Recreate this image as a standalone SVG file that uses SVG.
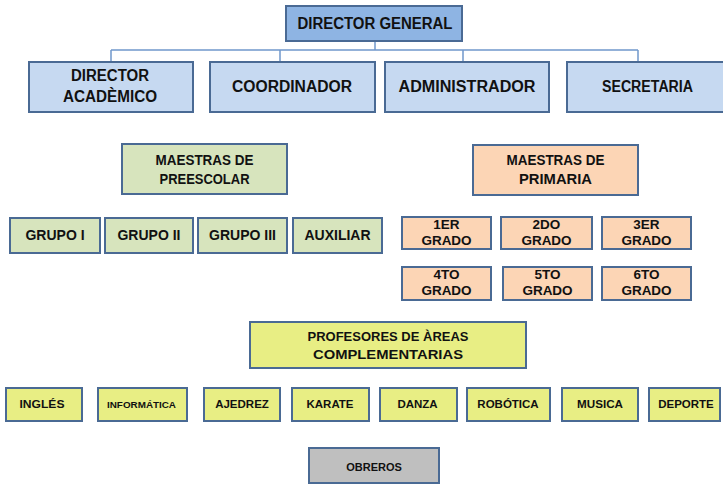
<svg xmlns="http://www.w3.org/2000/svg" width="723" height="485" viewBox="0 0 723 485">
<style>
.b{stroke:#4A6A94;stroke-width:2}
.dg{fill:#8EB4E3}
.lb{fill:#C6D9F1}
.gr{fill:#D7E4BD}
.pe{fill:#FCD5B5}
.ye{fill:#E8EE84}
.gy{fill:#BFBFBF}
text{font-family:"Liberation Sans",Arial,sans-serif;font-weight:bold;fill:#111;text-anchor:middle}
.t16{font-size:16px}
.t14{font-size:14px}
.t135{font-size:13.5px}
.t13{font-size:13px}
.t115{font-size:11.5px}
.t11{font-size:11px}
.conn{fill:none;stroke:#7098CC;stroke-width:1.5}
</style>
<rect width="723" height="485" fill="#FFFFFF"/>
<g id="connectors">
<path class="conn" d="M375 41V50M111 50H638M111 50V62M280 50V62M463 50V62M638 50V62"/>
</g>
<g id="director-general">
<rect class="b dg" x="286" y="6" width="176" height="35"/>
<text class="t16" x="375" y="28.5" textLength="155" lengthAdjust="spacingAndGlyphs">DIRECTOR GENERAL</text>
</g>
<g id="director-academico">
<rect class="b lb" x="29" y="62" width="164" height="50"/>
<text class="t16" x="110" y="81" textLength="78" lengthAdjust="spacingAndGlyphs">DIRECTOR</text>
<text class="t16" x="110" y="102" textLength="94" lengthAdjust="spacingAndGlyphs">ACADÈMICO</text>
</g>
<g id="coordinador">
<rect class="b lb" x="210" y="62" width="165" height="50"/>
<text class="t16" x="292" y="92" textLength="120" lengthAdjust="spacingAndGlyphs">COORDINADOR</text>
</g>
<g id="administrador">
<rect class="b lb" x="385" y="62" width="164" height="50"/>
<text class="t16" x="467" y="92" textLength="137" lengthAdjust="spacingAndGlyphs">ADMINISTRADOR</text>
</g>
<g id="secretaria">
<rect class="b lb" x="567" y="62" width="162" height="50"/>
<text class="t16" x="647.5" y="92" textLength="91" lengthAdjust="spacingAndGlyphs">SECRETARIA</text>
</g>
<g id="maestras-preescolar">
<rect class="b gr" x="122" y="144" width="165" height="50"/>
<text class="t14" x="204.5" y="165" textLength="98" lengthAdjust="spacingAndGlyphs">MAESTRAS DE</text>
<text class="t14" x="204.5" y="184" textLength="90" lengthAdjust="spacingAndGlyphs">PREESCOLAR</text>
</g>
<g id="grupo-1"><rect class="b gr" x="10" y="218" width="90" height="35"/><text class="t14" x="55" y="240">GRUPO I</text></g>
<g id="grupo-2"><rect class="b gr" x="105" y="218" width="88" height="35"/><text class="t14" x="149" y="240">GRUPO II</text></g>
<g id="grupo-3"><rect class="b gr" x="198" y="218" width="89" height="35"/><text class="t14" x="242.5" y="240">GRUPO III</text></g>
<g id="auxiliar"><rect class="b gr" x="293" y="218" width="89" height="35"/><text class="t14" x="337.5" y="240">AUXILIAR</text></g>
<g id="maestras-primaria">
<rect class="b pe" x="473" y="145" width="165" height="50"/>
<text class="t14" x="555.5" y="165" textLength="98" lengthAdjust="spacingAndGlyphs">MAESTRAS DE</text>
<text class="t14" x="555.5" y="184" textLength="73" lengthAdjust="spacingAndGlyphs">PRIMARIA</text>
</g>
<g id="grado-1"><rect class="b pe" x="402" y="217" width="89" height="32"/><text class="t135" x="446.5" y="229">1ER</text><text class="t135" x="446.5" y="245">GRADO</text></g>
<g id="grado-2"><rect class="b pe" x="501" y="217" width="91" height="32"/><text class="t135" x="546.5" y="229">2DO</text><text class="t135" x="546.5" y="245">GRADO</text></g>
<g id="grado-3"><rect class="b pe" x="602" y="217" width="89" height="32"/><text class="t135" x="646.5" y="229">3ER</text><text class="t135" x="646.5" y="245">GRADO</text></g>
<g id="grado-4"><rect class="b pe" x="402" y="267" width="89" height="33"/><text class="t135" x="446.5" y="279">4TO</text><text class="t135" x="446.5" y="295">GRADO</text></g>
<g id="grado-5"><rect class="b pe" x="503" y="267" width="89" height="33"/><text class="t135" x="547.5" y="279">5TO</text><text class="t135" x="547.5" y="295">GRADO</text></g>
<g id="grado-6"><rect class="b pe" x="602" y="267" width="89" height="33"/><text class="t135" x="646.5" y="279">6TO</text><text class="t135" x="646.5" y="295">GRADO</text></g>
<g id="profesores-areas">
<rect class="b ye" x="250" y="322" width="276" height="46"/>
<text class="t13" x="388" y="341" textLength="161" lengthAdjust="spacingAndGlyphs">PROFESORES DE ÀREAS</text>
<text class="t13" x="388" y="359" textLength="150" lengthAdjust="spacingAndGlyphs">COMPLEMENTARIAS</text>
</g>
<g id="ingles"><rect class="b ye" x="6" y="388" width="76" height="33"/><text class="t115" x="42" y="408" textLength="45" lengthAdjust="spacingAndGlyphs">INGLÉS</text></g>
<g id="informatica"><rect class="b ye" x="98" y="388" width="89" height="33"/><text x="141.5" y="408" font-size="9" textLength="69" lengthAdjust="spacingAndGlyphs">INFORMÁTICA</text></g>
<g id="ajedrez"><rect class="b ye" x="204" y="388" width="76" height="33"/><text class="t115" x="242" y="408">AJEDREZ</text></g>
<g id="karate"><rect class="b ye" x="292" y="388" width="77" height="33"/><text class="t115" x="330" y="408">KARATE</text></g>
<g id="danza"><rect class="b ye" x="380" y="388" width="77" height="33"/><text class="t115" x="417.5" y="408">DANZA</text></g>
<g id="robotica"><rect class="b ye" x="467" y="388" width="83" height="33"/><text class="t115" x="508" y="408">ROBÓTICA</text></g>
<g id="musica"><rect class="b ye" x="562" y="388" width="76" height="33"/><text class="t115" x="600" y="408" textLength="46" lengthAdjust="spacingAndGlyphs">MUSICA</text></g>
<g id="deporte"><rect class="b ye" x="649" y="388" width="71" height="33"/><text class="t115" x="686" y="408">DEPORTE</text></g>
<g id="obreros"><rect class="b gy" x="309" y="448" width="130" height="35"/><text class="t11" x="374" y="471">OBREROS</text></g>
</svg>
